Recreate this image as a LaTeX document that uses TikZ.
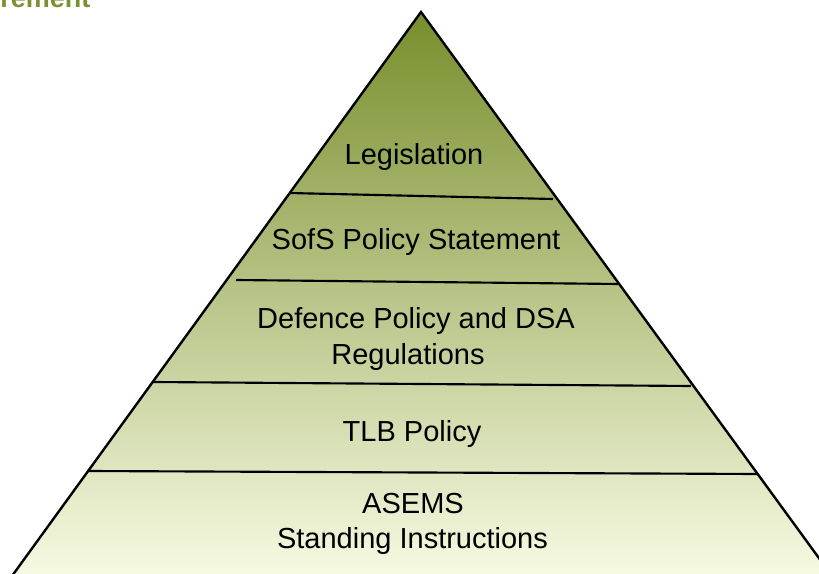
\documentclass[tikz,border=0pt]{standalone}
\usepackage{fontspec}
\setmainfont{Liberation Sans}
\definecolor{pyrTop}{RGB}{120,142,44}
\definecolor{pyrBot}{RGB}{247,250,226}
\definecolor{titleGreen}{RGB}{122,145,48}
\begin{document}
\begin{tikzpicture}[x=0.75pt,y=-0.75pt,
  lbl/.style={anchor=base, inner sep=0pt, font=\fontsize{21.75pt}{26pt}\selectfont},
  edgeline/.style={line width=1.8pt, line join=miter},
  divider/.style={line width=1.6pt, line cap=butt},
  titlefrag/.style={anchor=base west, inner sep=0pt, text=titleGreen, font=\bfseries\fontsize{20.25pt}{24pt}\selectfont}]
\useasboundingbox (0,0) rectangle (819,574);
\clip (0,0) rectangle (819,574);
% pyramid
\coordinate (apex) at (421,12);
\coordinate (bl) at (12,576);
\coordinate (br) at (832,576);
\shade[top color=pyrTop, bottom color=pyrBot] (apex) -- (bl) -- (br) -- cycle;
\draw[edgeline] (bl) -- (apex) -- (br);
% dividers
\coordinate (d1l) at (289,193); \coordinate (d1r) at (553,199);
\coordinate (d2l) at (236,280); \coordinate (d2r) at (618,284);
\coordinate (d3l) at (153,382); \coordinate (d3r) at (691,386);
\coordinate (d4l) at (88,471);  \coordinate (d4r) at (757,474);
\draw[divider] (d1l) -- (d1r);
\draw[divider] (d2l) -- (d2r);
\draw[divider] (d3l) -- (d3r);
\draw[divider] (d4l) -- (d4r);
% labels
\node[lbl] (leg) at (414,165) {Legislation};
\node[lbl] (sofs) at (416,250) {SofS Policy Statement};
\node[lbl] (defa) at (416,329) {Defence Policy and DSA};
\node[lbl] (defb) at (408,365) {Regulations};
\node[lbl] (tlb) at (412,441) {TLB Policy};
\node[lbl] (asa) at (413,513) {ASEMS};
\node[lbl] (asb) at (412.5,548) {Standing Instructions};
% cut-off title fragment (the reference shows only its lower part)
\node[titlefrag] (title) at (0,8) {rement};
\end{tikzpicture}
\end{document}
